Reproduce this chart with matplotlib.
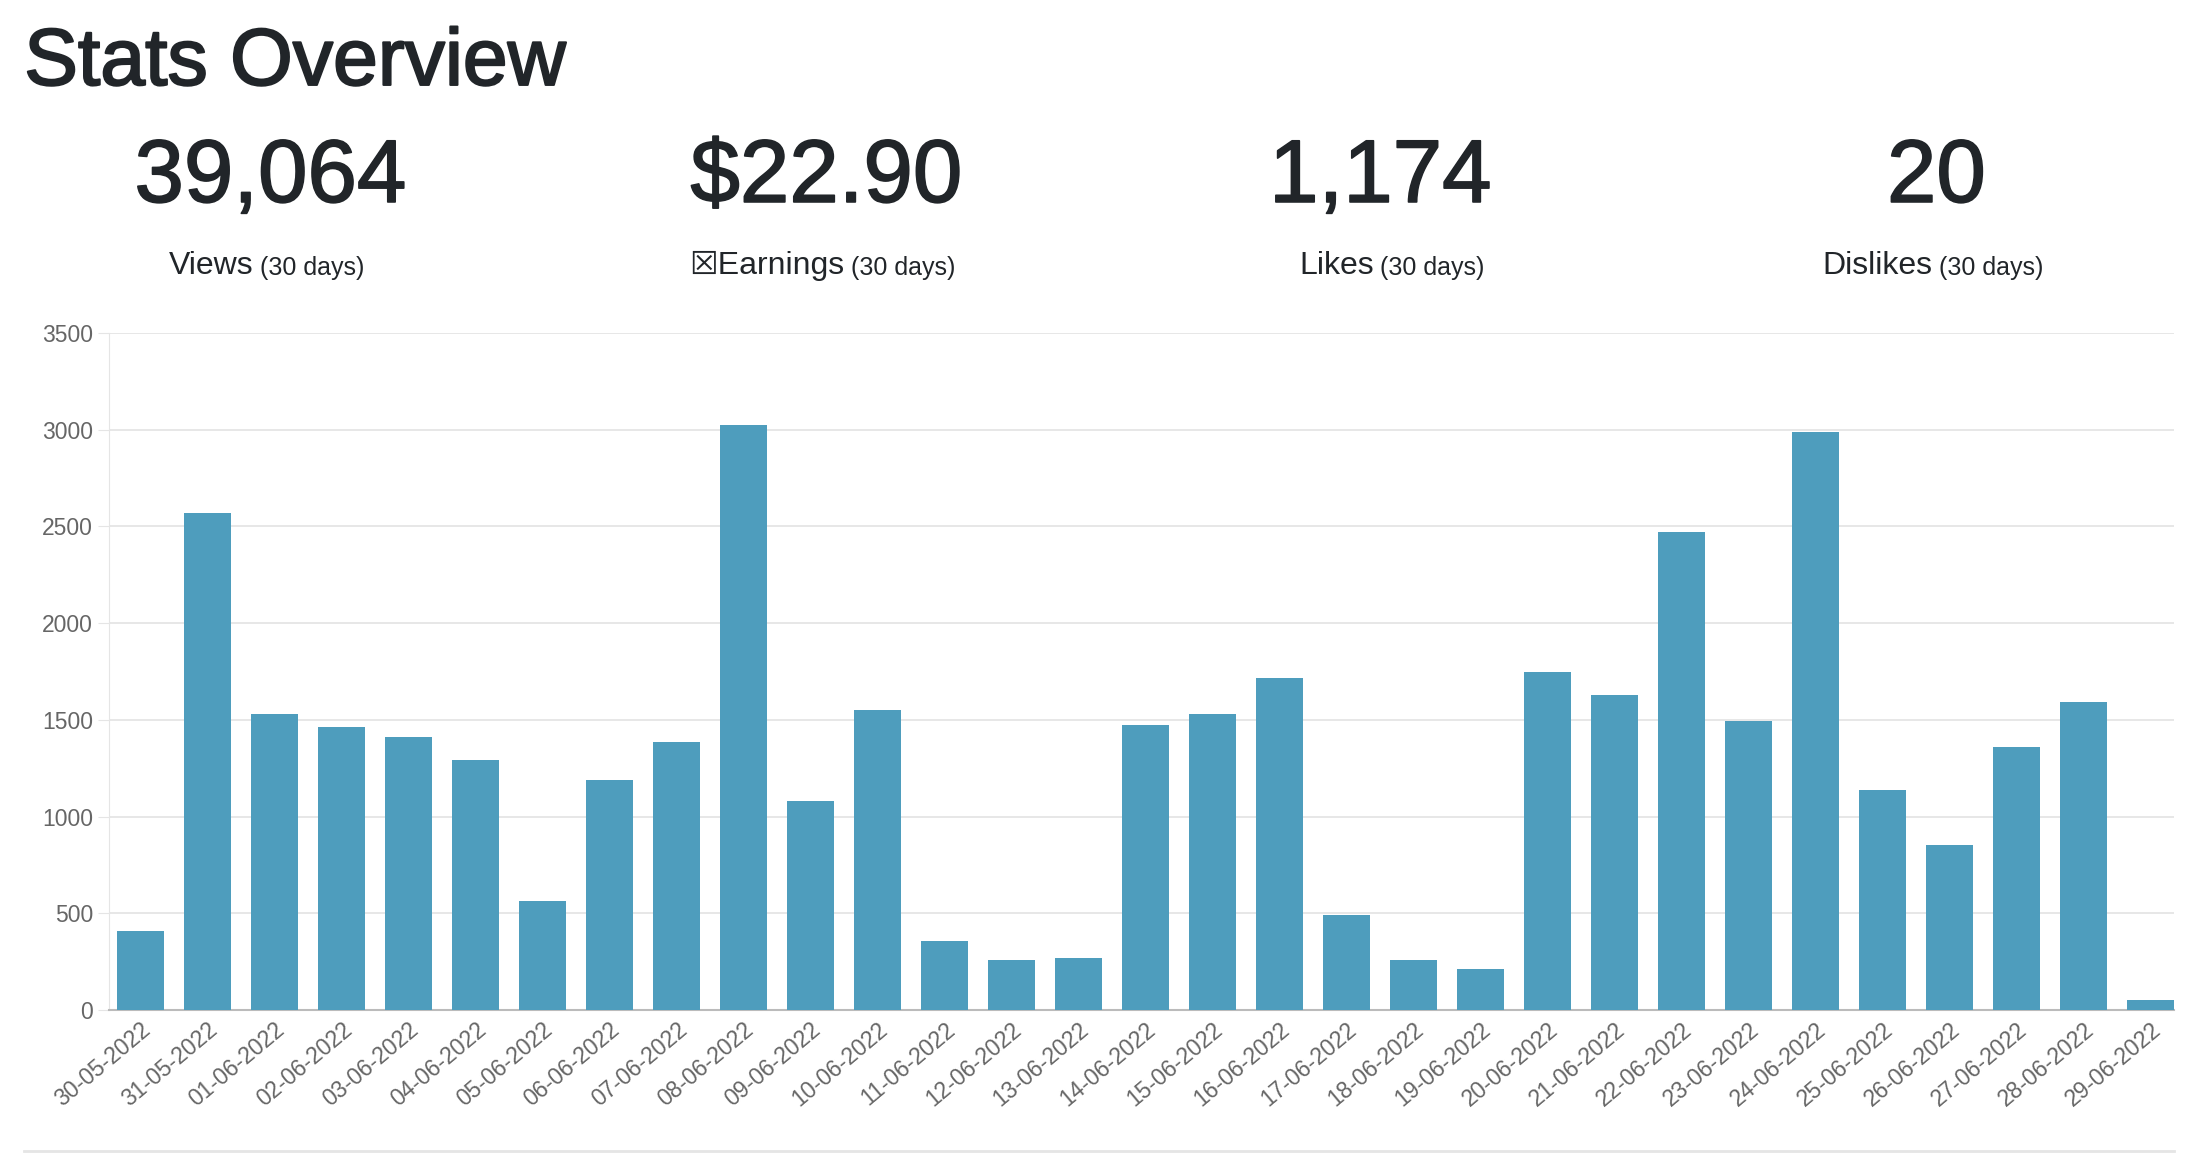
import matplotlib
matplotlib.use("Agg")
import matplotlib.pyplot as plt
import matplotlib.patheffects as pe

plt.rcParams['font.family'] = ['Liberation Sans', 'DejaVu Sans']

dates = ["30-05-2022", "31-05-2022", "01-06-2022", "02-06-2022", "03-06-2022",
         "04-06-2022", "05-06-2022", "06-06-2022", "07-06-2022", "08-06-2022",
         "09-06-2022", "10-06-2022", "11-06-2022", "12-06-2022", "13-06-2022",
         "14-06-2022", "15-06-2022", "16-06-2022", "17-06-2022", "18-06-2022",
         "19-06-2022", "20-06-2022", "21-06-2022", "22-06-2022", "23-06-2022",
         "24-06-2022", "25-06-2022", "26-06-2022", "27-06-2022", "28-06-2022",
         "29-06-2022"]
views = [410, 2572, 1529, 1464, 1413, 1290, 565, 1188, 1384, 3022,
         1080, 1551, 355, 261, 268, 1471, 1529, 1717, 493, 261,
         210, 1746, 1630, 2471, 1493, 2986, 1138, 855, 1362, 1594, 51]

stat_values = ["39,064", "$22.90", "1,174", "20"]
stat_names = ["Views", "\u2612Earnings", "Likes", "Dislikes"]
stat_centers = [0.123, 0.376, 0.628, 0.881]
name_ends = [0.1154, 0.384, 0.625, 0.879]

TXT = "#212529"
fig = plt.figure(figsize=(21.98, 11.62), dpi=100)
fig.text(0.011, 0.945, "Stats Overview", fontsize=58, color=TXT, va="center",
         path_effects=[pe.withStroke(linewidth=1.5, foreground=TXT)])
for v, n, c, e in zip(stat_values, stat_names, stat_centers, name_ends):
    fig.text(c, 0.846, v, fontsize=64, color=TXT, ha="center", va="center",
             path_effects=[pe.withStroke(linewidth=1.2, foreground=TXT)])
    fig.text(e, 0.771, n, fontsize=23, color=TXT, ha="right", va="center")
    fig.text(e + 0.003, 0.769, "(30 days)", fontsize=18, color=TXT, ha="left", va="center")

ax = fig.add_axes([109 / 2198, 1 - 1010 / 1162, (2174 - 109) / 2198, (1010 - 333) / 1162])
ax.bar(range(len(views)), views, width=0.7, color="#4e9dbd", zorder=3)
ax.set_xlim(-0.47, 30.35)
ax.set_ylim(0, 3500)
ax.set_yticks(range(0, 3501, 500))
ax.grid(axis="y", color="#e5e5e5", linewidth=1.3, zorder=0)
ax.set_xticks(range(len(dates)))
ax.set_xticklabels(dates, rotation=40, ha="right", rotation_mode="anchor")
ax.tick_params(axis="x", length=0, labelsize=16.5, colors="#666666", pad=6)
ax.tick_params(axis="y", length=8, color="#e5e5e5", labelsize=16.5, labelcolor="#666666")
for s in ["top", "right"]:
    ax.spines[s].set_visible(False)
ax.spines["left"].set_color("#e5e5e5")
ax.spines["bottom"].set_color("#bbbbbb")
ax.spines["bottom"].set_linewidth(1.5)

fig.add_artist(plt.Line2D([24 / 2198, 2174 / 2198], [1 - 1151 / 1162] * 2,
                          color="#e5e5e5", linewidth=2))

fig.savefig("out.png", dpi=100)
